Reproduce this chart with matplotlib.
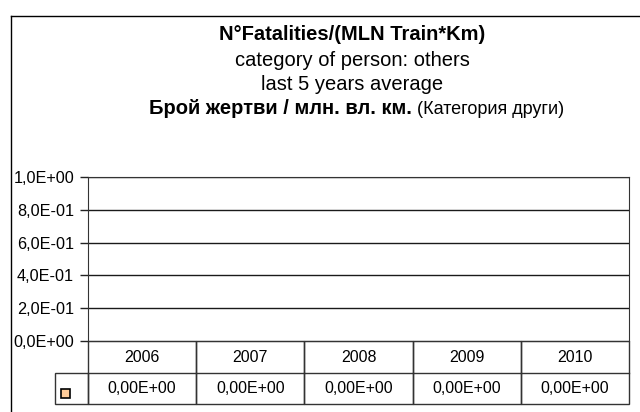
import matplotlib
matplotlib.use("Agg")
import matplotlib.pyplot as plt
from matplotlib.lines import Line2D
from matplotlib.patches import Rectangle
import matplotlib.transforms as mtransforms

plt.rcParams['font.family'] = ['Liberation Sans', 'DejaVu Sans']

years = ['2006', '2007', '2008', '2009', '2010']
values = [0.0, 0.0, 0.0, 0.0, 0.0]
value_labels = ['0,00E+00'] * 5
yticks = [0.0, 0.2, 0.4, 0.6, 0.8, 1.0]
ytick_labels = ['0,0E+00', '2,0E-01', '4,0E-01', '6,0E-01', '8,0E-01', '1,0E+00']

W, H = 640, 412
fig = plt.figure(figsize=(W / 100, H / 100), dpi=100)


def fx(px):
    return px / W


def fy(py):
    return 1 - py / H


# outer chart frame (extends beyond the image on right and bottom)
fig.add_artist(Line2D([fx(11), 1.0], [fy(16), fy(16)], color='black', lw=1.0))
fig.add_artist(Line2D([fx(11), fx(11)], [0.0, fy(16)], color='black', lw=1.0))

# titles
tfs = 14.5
cx = 352
fig.text(fx(cx), fy(35), 'N°Fatalities/(MLN Train*Km)', ha='center', va='center',
         fontsize=tfs, fontweight='bold')
fig.text(fx(cx), fy(61), 'category of person: others', ha='center', va='center', fontsize=tfs)
fig.text(fx(cx), fy(85), 'last 5 years average', ha='center', va='center', fontsize=tfs)
fig.text(fx(412), fy(109), 'Брой жертви / млн. вл. км.', ha='right', va='center',
         fontsize=tfs, fontweight='bold')
fig.text(fx(417), fy(109), '(Категория други)', ha='left', va='center', fontsize=13)

left, right, top, bottom = 88, 629, 177, 341
ax = fig.add_axes([fx(left), fy(bottom), (right - left) / W, (bottom - top) / H])
x = list(range(len(years)))
ax.bar(x, values, width=0.6, color='#FFCC99', edgecolor='black', linewidth=0)
ax.set_xlim(-0.5, len(years) - 0.5)
ax.set_ylim(0, 1.0)
ax.set_yticks(yticks)
ax.set_yticklabels(ytick_labels, fontsize=11.7)
ax.set_xticks([])
for yv in yticks[1:]:
    ax.axhline(yv, color='#1a1a1a', lw=1.0, zorder=0)
for s in ax.spines.values():
    s.set_color('#333333')
ax.tick_params(axis='y', direction='out', length=5.5, width=1.0, color='#222222', pad=4.5)

# data table below the plot
ph = bottom - top
r1 = -(373 - bottom) / ph
r2 = -(404 - bottom) / ph
blend = mtransforms.blended_transform_factory(ax.transData, ax.transAxes)
lc = '#333333'
tfs2 = 11.5
for i, (yr, lab) in enumerate(zip(years, value_labels)):
    x0, x1 = i - 0.5, i + 0.5
    ax.add_patch(Rectangle((x0, r2), 1.0, -r2, transform=blend, fill=False,
                           edgecolor=lc, lw=1.0, clip_on=False))
    ax.add_line(Line2D([x0, x1], [r1, r1], transform=blend, color=lc, lw=1.0, clip_on=False))
    ax.text(i, r1 / 2, yr, transform=blend, ha='center', va='center', fontsize=tfs2)
    ax.text(i, (r1 + r2) / 2, lab, transform=blend, ha='center', va='center', fontsize=tfs2)

# legend key cell
aw = right - left
lx0 = (55 - left) / aw
ax.add_patch(Rectangle((lx0, r2), -lx0, r1 - r2, transform=ax.transAxes, fill=False,
                       edgecolor=lc, lw=1.0, clip_on=False))
sw = 9
ax.add_patch(Rectangle(((61 - left) / aw, -(398 - bottom) / ph), sw / aw, sw / ph,
                       transform=ax.transAxes, facecolor='#FFCC99', edgecolor='black',
                       lw=1.2, clip_on=False))

fig.savefig('out.png', dpi=100)
